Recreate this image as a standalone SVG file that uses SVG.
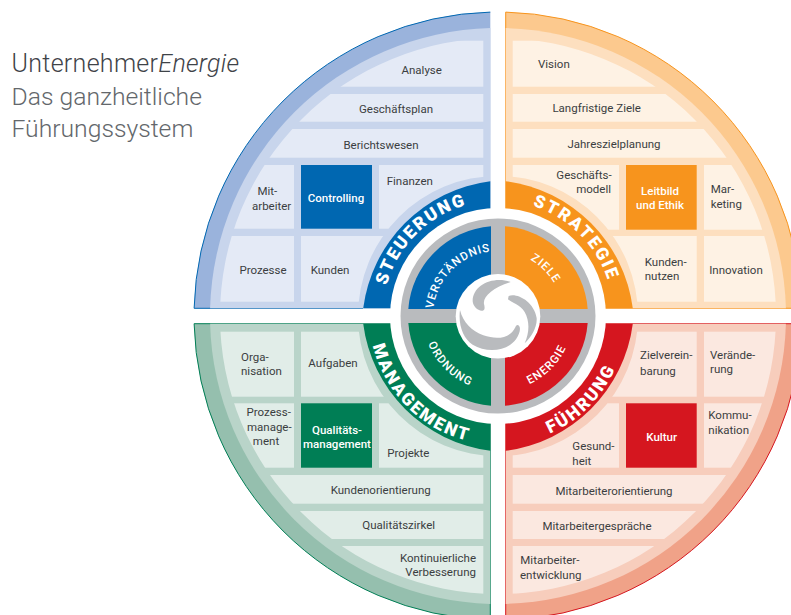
<svg xmlns="http://www.w3.org/2000/svg" xmlns:xlink="http://www.w3.org/1999/xlink" width="791" height="615" viewBox="0 0 791 615">
<style>
text{font-family:Roboto,"Liberation Sans",sans-serif;font-size:11.5px;fill:#3b3e41}
.m{text-anchor:middle}
.e{text-anchor:end}
.w{fill:#fff;font-weight:500;text-anchor:middle}
.t1{font-size:25px;font-weight:300;letter-spacing:.3px;fill:#3f4348}
.t2{font-size:24.7px;font-weight:300;fill:#63676b}
.big{fill:#fff;font-weight:900;font-size:17.5px;letter-spacing:2.1px;text-anchor:middle}
.sm{fill:#fff;font-weight:500;font-size:11.5px;letter-spacing:1px;text-anchor:middle}
.c{clip-path:url(#ring)}
.bb{fill:#9ab3dc}.b2{fill:#c8d5ec}.bc{fill:#e4eaf6}.bm{fill:#0067b1}
.ob{fill:#fcc98e}.o2{fill:#fddfbf}.oc{fill:#fef2e4}.om{fill:#f7941d}
.gb{fill:#95bfae}.g2{fill:#b9d4c9}.gc{fill:#e1ede8}.gm{fill:#007e55}
.rb{fill:#f0a288}.r2{fill:#f7cdbc}.rc{fill:#fbe8e0}.rm{fill:#d5161f}
</style>
<defs>
<clipPath id="ring"><path clip-rule="evenodd" d="M220 316a278 278 0 1 0 556 0a278 278 0 1 0 -556 0ZM358 316a140 140 0 1 0 280 0a140 140 0 1 0 -280 0Z"/></clipPath>
<path id="p1" d="M382.5 316A115.5 115.5 0 0 1 498 200.5"/>
<path id="p2" d="M498 200.5A115.5 115.5 0 0 1 613.5 316"/>
<path id="p3" d="M369.5 316A128.5 128.5 0 0 0 498 444.5"/>
<path id="p4" d="M498 444.5A128.5 128.5 0 0 0 626.5 316"/>
<path id="p5" d="M433 316A65 65 0 0 1 498 251"/>
<path id="p6" d="M498 251A65 65 0 0 1 563 316"/>
<path id="p7" d="M423 316A75 75 0 0 0 498 391"/>
<path id="p8" d="M498 391A75 75 0 0 0 573 316"/>
</defs>

<g id="title">
<text class="t1" x="11.5" y="72">Unternehmer<tspan font-style="italic">Energie</tspan></text>
<text class="t2" x="11.5" y="105">Das ganzheitliche</text>
<text class="t2" x="11.5" y="137">Führungssystem</text>
</g>

<g id="quadrant-steuerung">
<path class="bb" d="M490.3 12.1A304 304 0 0 0 194.1 308.3L490.3 308.3Z"/>
<path fill="none" stroke="#0067b1" stroke-width="1" d="M490.3 12.1A304 304 0 0 0 194.1 308.3L363 308.3"/>
<path class="b2" d="M490.3 28.1A288 288 0 0 0 210.1 308.3L490.3 308.3Z"/>
</g>
<g id="quadrant-strategie">
<path class="ob" stroke="#f7941d" d="M505.7 12.1A304 304 0 0 1 801.9 308.3L505.7 308.3Z"/>
<path class="o2" d="M505.7 28.1A288 288 0 0 1 785.9 308.3L505.7 308.3Z"/>
</g>
<g id="quadrant-management">
<path class="gb" stroke="#007e55" d="M490.3 619.9A304 304 0 0 1 194.1 323.7L490.3 323.7Z"/>
<path class="g2" d="M490.3 603.9A288 288 0 0 1 210.1 323.7L490.3 323.7Z"/>
</g>
<g id="quadrant-fuehrung">
<path class="rb" stroke="#d5161f" d="M505.7 619.9A304 304 0 0 0 801.9 323.7L505.7 323.7Z"/>
<path class="r2" d="M505.7 603.9A288 288 0 0 0 785.9 323.7L505.7 323.7Z"/>
</g>

<g id="analyse"><rect class="bc c" x="190" y="40.7" width="293.3" height="46"/><text class="m" x="421.7" y="74">Analyse</text></g>
<g id="geschaeftsplan"><rect class="bc c" x="190" y="94" width="293.3" height="27.7"/><text class="m" x="396" y="113">Geschäftsplan</text></g>
<g id="berichtswesen"><rect class="bc c" x="190" y="129" width="293.3" height="28.7"/><text class="m" x="381" y="148.7">Berichtswesen</text></g>
<g id="mitarbeiter"><rect class="bc c" x="190" y="165" width="104" height="63.7"/><text x="257.5" y="195.3">Mit-</text><text x="252" y="210">arbeiter</text></g>
<g id="controlling"><rect class="bm" x="301" y="165" width="71" height="63.7"/><text class="w" x="336" y="202">Controlling</text></g>
<g id="finanzen"><rect class="bc c" x="379" y="165" width="104.3" height="63.7"/><text x="386.7" y="185">Finanzen</text></g>
<g id="prozesse"><rect class="bc c" x="190" y="236" width="104" height="65.7"/><text class="m" x="263" y="274">Prozesse</text></g>
<g id="kunden"><rect class="bc c" x="301" y="236" width="100" height="65.7"/><text class="m" x="330" y="274">Kunden</text></g>

<g id="vision"><rect class="oc c" x="512.7" y="40.7" width="280" height="46"/><text x="538" y="68">Vision</text></g>
<g id="langfristige-ziele"><rect class="oc c" x="512.7" y="94" width="280" height="27.7"/><text class="m" x="596.7" y="111.7">Langfristige Ziele</text></g>
<g id="jahreszielplanung"><rect class="oc c" x="512.7" y="129" width="280" height="28.7"/><text class="m" x="614" y="148">Jahreszielplanung</text></g>
<g id="geschaeftsmodell"><rect class="oc c" x="512.7" y="165" width="106.3" height="64.7"/><text class="e" x="611.7" y="179">Geschäfts-</text><text class="e" x="611" y="193">modell</text></g>
<g id="leitbild"><rect class="om" x="626" y="165" width="70.7" height="64.7"/><text class="w" x="660" y="195">Leitbild</text><text class="w" x="660" y="209">und Ethik</text></g>
<g id="marketing"><rect class="oc c" x="704" y="165" width="90" height="64.7"/><text x="710.7" y="193">Mar-</text><text x="710.7" y="208">keting</text></g>
<g id="kundennutzen"><rect class="oc c" x="600" y="236" width="96.7" height="65.7"/><text class="m" x="665.7" y="266">Kunden-</text><text class="m" x="662" y="280">nutzen</text></g>
<g id="innovation"><rect class="oc c" x="704" y="236" width="90" height="65.7"/><text class="m" x="736" y="274">Innovation</text></g>

<g id="organisation"><rect class="gc c" x="190" y="331.7" width="104" height="65"/><text x="241" y="360.7">Orga-</text><text x="241" y="375">nisation</text></g>
<g id="aufgaben"><rect class="gc c" x="301" y="331.7" width="100" height="65"/><text class="m" x="333" y="367">Aufgaben</text></g>
<g id="prozessmanagement"><rect class="gc c" x="190" y="403.3" width="104" height="64.4"/><text class="m" x="268.7" y="416">Prozess-</text><text class="m" x="269.3" y="430.7">manage-</text><text class="m" x="266" y="445">ment</text></g>
<g id="qualitaetsmanagement"><rect class="gm" x="301" y="403.3" width="71" height="64.4"/><text class="w" x="337" y="434">Qualitäts-</text><text class="w" x="337" y="448">management</text></g>
<g id="projekte"><rect class="gc c" x="379" y="403.3" width="104.3" height="64.4"/><text x="387.3" y="456.7">Projekte</text></g>
<g id="kundenorientierung"><rect class="gc c" x="190" y="475" width="293.3" height="28.7"/><text class="m" x="380.7" y="494">Kundenorientierung</text></g>
<g id="qualitaetszirkel"><rect class="gc c" x="190" y="511" width="293.3" height="28"/><text class="m" x="398.7" y="529">Qualitätszirkel</text></g>
<g id="verbesserung"><rect class="gc c" x="190" y="546" width="293.3" height="50"/><text class="e" x="476" y="562">Kontinuierliche</text><text class="e" x="476" y="576">Verbesserung</text></g>

<g id="zielvereinbarung"><rect class="rc c" x="600" y="331.7" width="96.7" height="65"/><text x="640" y="359.3">Zielverein-</text><text x="640" y="375">barung</text></g>
<g id="veraenderung"><rect class="rc c" x="704" y="331.7" width="90" height="65"/><text x="710" y="358.7">Verände-</text><text x="710" y="373">rung</text></g>
<g id="gesundheit"><rect class="rc c" x="512.7" y="403.3" width="106.3" height="64.4"/><text x="572.3" y="450">Gesund-</text><text x="572.3" y="464.7">heit</text></g>
<g id="kultur"><rect class="rm" x="626" y="403.3" width="70.7" height="64.4"/><text class="w" x="661.7" y="440.7">Kultur</text></g>
<g id="kommunikation"><rect class="rc c" x="704" y="403.3" width="90" height="64.4"/><text x="708.3" y="419">Kommu-</text><text x="708.3" y="434">nikation</text></g>
<g id="mitarbeiterorientierung"><rect class="rc c" x="512.7" y="475" width="280" height="28.7"/><text class="m" x="614" y="495">Mitarbeiterorientierung</text></g>
<g id="mitarbeitergespraeche"><rect class="rc c" x="512.7" y="511" width="280" height="28"/><text class="m" x="597" y="530">Mitarbeitergespräche</text></g>
<g id="mitarbeiterentwicklung"><rect class="rc c" x="512.7" y="546" width="280" height="50"/><text x="520.3" y="564">Mitarbeiter-</text><text x="520" y="579">entwicklung</text></g>

<g id="steuerung"><path class="bm" d="M490.3 181.2A147 147 0 0 0 363.2 308.3L490.3 308.3Z"/></g>
<g id="strategie"><path class="om" d="M505.7 181.2A147 147 0 0 1 632.8 308.3L505.7 308.3Z"/></g>
<g id="management"><path class="gm" d="M490.3 450.8A147 147 0 0 1 363.2 323.7L490.3 323.7Z"/></g>
<g id="fuehrung"><path class="rm" d="M505.7 450.8A147 147 0 0 0 632.8 323.7L505.7 323.7Z"/></g>

<g id="hub">
<circle cx="498" cy="316" r="108" fill="#fff"/>
<circle cx="498" cy="316" r="97.5" fill="#b9bbbe"/>
<path class="bm" d="M491 226.3A90 90 0 0 0 408.3 309L491 309Z"/>
<path class="om" d="M505 226.3A90 90 0 0 1 587.7 309L505 309Z"/>
<path class="gm" d="M491 405.7A90 90 0 0 1 408.3 323L491 323Z"/>
<path class="rm" d="M505 405.7A90 90 0 0 0 587.7 323L505 323Z"/>
<circle cx="498" cy="316.3" r="42.3" fill="#fff"/>
<g transform="translate(450 268) scale(.3333)" fill="#b9bbbe">
<path d="M182 42C130 24 68 50 68 100C69 115 84 130 98 128C106 126 104 116 102 108C98 85 130 58 182 42Z"/>
<path d="M176 84C200 74 252 100 260 150C262 178 244 206 224 226C238 195 240 160 224 132C212 112 186 104 174 94Z"/>
<path d="M205 172C214 178 210 196 198 214C172 250 110 256 68 230C40 212 24 170 30 126C40 165 65 188 100 202C140 216 180 212 196 178C198 173 202 170 205 172Z"/>
</g>
</g>

<g id="arc-labels">
<text class="big"><textPath xlink:href="#p1" href="#p1" startOffset="50%">STEUERUNG</textPath></text>
<text class="big"><textPath xlink:href="#p2" href="#p2" startOffset="50%">STRATEGIE</textPath></text>
<text class="big"><textPath xlink:href="#p3" href="#p3" startOffset="50%">MANAGEMENT</textPath></text>
<text class="big"><textPath xlink:href="#p4" href="#p4" startOffset="50%">FÜHRUNG</textPath></text>
<text class="sm"><textPath xlink:href="#p5" href="#p5" startOffset="50%">VERSTÄNDNIS</textPath></text>
<text class="sm"><textPath xlink:href="#p6" href="#p6" startOffset="50%">ZIELE</textPath></text>
<text class="sm"><textPath xlink:href="#p7" href="#p7" startOffset="50%">ORDNUNG</textPath></text>
<text class="sm"><textPath xlink:href="#p8" href="#p8" startOffset="50%">ENERGIE</textPath></text>
</g>
</svg>
